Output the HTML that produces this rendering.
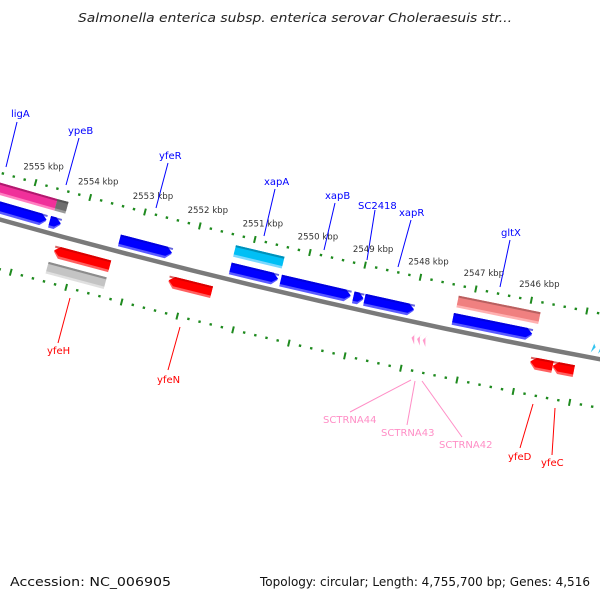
<!DOCTYPE html>
<html><head><meta charset="utf-8"><style>
html,body{margin:0;padding:0;background:#fff;}
svg{display:block;font-family:"DejaVu Sans","Liberation Sans",sans-serif;}
</style></head><body>
<svg id="map" width="600" height="600" viewBox="0 0 600 600" xmlns="http://www.w3.org/2000/svg">
<rect width="600" height="600" fill="#fff"/>
<text x="78" y="22" font-size="12.5" font-style="italic" fill="#222" textLength="434" lengthAdjust="spacingAndGlyphs">Salmonella enterica subsp. enterica serovar Choleraesuis str...</text>
<circle cx="1864" cy="-6424" r="6900" fill="none" stroke="#7a7a7a" stroke-width="4.5"/>
<g id="ticks"></g>
<g id="genes"></g>
<g id="labels"></g>
<text x="10" y="586" font-size="12" fill="#111" textLength="161" lengthAdjust="spacingAndGlyphs">Accession: NC_006905</text>
<text x="260" y="586" font-size="12" fill="#111" textLength="330" lengthAdjust="spacingAndGlyphs">Topology: circular; Length: 4,755,700 bp; Genes: 4,516</text>
</svg>
<script>
// ---- data (kbp positions) ----
var geneNames = ["ligA","ypeB","ligA-b","ypeB-b","yfeR","xapA-b","xapA","xapB","xapB2","xapR","gltX-b","gltX","yfeH","yfeH-g","yfeN","yfeD","yfeC"];
var geneStarts = [2557.5,2554.58,2557.5,2554.55,2553.31,2551.30,2551.30,2550.39,2549.08,2548.88,2547.29,2547.27,2554.37,2554.41,2552.30,2545.81,2545.41];
var geneEnds   = [2554.64,2554.38,2554.55,2554.35,2552.36,2550.44,2550.42,2549.13,2548.90,2547.99,2545.87,2545.80,2553.36,2553.36,2551.52,2545.41,2545.03];
var geneRows   = [1,1,0,0,1,1,0,1,1,1,1,0,2,3,2,2,2];
var geneKinds  = ["blue","blue","pink","gray","blue","blue","cyan","blue","blue","blue","blue","salmon","red","lgray","red","red","red"];
var trnaPos = [2547.86,2547.76,2547.66];
var cyanChevPos = [2544.80,2544.67];
var kbpTicks = [2555,2554,2553,2552,2551,2550,2549,2548,2547,2546];
var tickRange = [2544, 2557];

var CX=1864, CY=-6424;
var rowR = [[6865,6877],[6883,6895],[6910.5,6922.5],[6928,6940]];
var styles = {
 blue:{main:"#0000ff",top:"#0000c8",bot:"#5a5aff",arrow:1},
 cyan:{main:"#00bff5",top:"#0090b8",bot:"#7ad8ff",arrow:0},
 pink:{main:"#f0309a",top:"#b01a6e",bot:"#ff7ec0",arrow:0},
 gray:{main:"#6e6e6e",top:"#555",bot:"#999",arrow:0},
 salmon:{main:"#f08080",top:"#b86060",bot:"#ffb0b0",arrow:0},
 red:{main:"#ff0000",top:"#c00000",bot:"#ff6060",arrow:-1},
 lgray:{main:"#c4c4c4",top:"#8c8c8c",bot:"#e0e0e0",arrow:0}
};
function ang(k){return (101.21+(k-2546)*0.4733)*Math.PI/180;}
function P(r,k){var a=ang(k);return [CX+r*Math.cos(a),CY+r*Math.sin(a)];}
var NS="http://www.w3.org/2000/svg";
function mk(tag,parent){var e=document.createElementNS(NS,tag);parent.appendChild(e);return e;}
function shape(s,e,r1,r2,dir){
 var hl=0.1, pts=[];
 var rm=(r1+r2)/2;
 if(dir===1){ var he=Math.min(e+hl,(s+e)/2);
   pts=[P(r1,s),P(r1,he),P(rm,e),P(r2,he),P(r2,s)];
 } else if(dir===-1){ var hs=Math.max(s-hl,(s+e)/2);
   pts=[P(r1,s),P(rm,s),P(r1,s)]; pts=[P(rm,s),P(r1,hs),P(r1,e),P(r2,e),P(r2,hs)];
 } else { pts=[P(r1,s),P(r1,e),P(r2,e),P(r2,s)]; }
 return pts.map(function(p){return p[0].toFixed(1)+","+p[1].toFixed(1);}).join(" ");
}
// ticks
var tg=document.getElementById("ticks");
[6855,6948].forEach(function(R,li){
 for(var i=Math.round(tickRange[0]*5);i<=Math.round(tickRange[1]*5);i++){
  var k=i/5, major=(i%5===0);
  var h=major?3.5:1.2;
  var a=P(R-h,k), b=P(R+h,k);
  var l=mk("line",tg);
  
  
  l.setAttribute("x1",a[0]);l.setAttribute("y1",a[1]);l.setAttribute("x2",b[0]);l.setAttribute("y2",b[1]);
  l.setAttribute("stroke","#1e8a1e");l.setAttribute("stroke-width",major?2:2.4);
 }
});
kbpTicks.forEach(function(k){
 var p=P(6855,k);
 var t=mk("text",tg);
 
 
 t.setAttribute("x",p[0]+8);t.setAttribute("y",p[1]-13);t.setAttribute("text-anchor","middle");
 t.setAttribute("font-size","8.6");t.setAttribute("fill","#333");
 t.textContent=k+" kbp";
});
// genes
var gg=document.getElementById("genes");
for(var i=0;i<geneNames.length;i++){
 var st=styles[geneKinds[i]], r=rowR[geneRows[i]], s=geneStarts[i], e=geneEnds[i];
 var g=mk("g",gg);
 
 
 var p1=mk("polygon",g);p1.setAttribute("points",shape(s,e,r[0],r[1],st.arrow));p1.setAttribute("fill",st.bot);
 var p2=mk("polygon",g);p2.setAttribute("points",shape(s,e,r[0],r[1]-2.5,st.arrow));p2.setAttribute("fill",st.main);
 var p3=mk("polygon",g);p3.setAttribute("points",shape(s,e,r[0],r[0]+2,0));p3.setAttribute("fill",st.top);
 if(st.arrow!==0){p3.setAttribute("opacity","0.6");}
}
function chevron(k,r1,r2,dir,col,name){
 var w=0.07,rm=(r1+r2)/2,pts;
 if(dir<0) pts=[P(rm,k),P(r1,k-w),P(r1+3,k-w*0.55),P(r2,k-w)];
 else pts=[P(rm,k),P(r1,k+w),P(r1+3,k+w*0.55),P(r2,k+w)];
 var p=mk("polygon",gg);
 
 
 p.setAttribute("points",pts.map(function(q){return q[0]+","+q[1];}).join(" "));p.setAttribute("fill",col);
}
trnaPos.forEach(function(k){chevron(k+0.07,6910,6922,-1,"#ff9acb",'trna-feature');});
cyanChevPos.forEach(function(k){chevron(k-0.07,6883,6895,1,"#33c4f0",'cyan-feature');});
// labels
var labelText=["ligA","ypeB","yfeR","xapA","xapB","SC2418","xapR","gltX","yfeH","yfeN","yfeD","yfeC","SCTRNA44","SCTRNA43","SCTRNA42"];
var labelColor=["#0000ff","#0000ff","#0000ff","#0000ff","#0000ff","#0000ff","#0000ff","#0000ff","#ff0000","#ff0000","#ff0000","#ff0000","#ff8ec6","#ff8ec6","#ff8ec6"];
var labelTextPos=[[11,117],[68,134],[159,159],[264,185],[325,199],[358,209],[399,216],[501,236],[47,354],[157,383],[508,460],[541,466],[323,423],[381,436],[439,448]];
var labelLine=[[17,122,6,167],[79,138,66,185],[168,163,156,208],[275,189,264,236],[335,203,324,250],[375,210,367,260],[411,220,398,267],[510,240,500,287],[70,298,58,343],[180,327,168,370],[533,404,520,448],[555,408,552,455],[411,380,350,412],[415,381,407,425],[422,381,462,437]];
var lg=document.getElementById("labels");
for(var j=0;j<labelText.length;j++){
 var ln=mk("line",lg);
 
 
 var L=labelLine[j];
 ln.setAttribute("x1",L[0]);ln.setAttribute("y1",L[1]);ln.setAttribute("x2",L[2]);ln.setAttribute("y2",L[3]);
 ln.setAttribute("stroke",labelColor[j]);ln.setAttribute("stroke-width","1");
 var tx=mk("text",lg);
 
 
 tx.setAttribute("x",labelTextPos[j][0]);tx.setAttribute("y",labelTextPos[j][1]);
 tx.setAttribute("font-size","10");tx.setAttribute("fill",labelColor[j]);
 tx.textContent=labelText[j];
}
</script>
</body></html>
